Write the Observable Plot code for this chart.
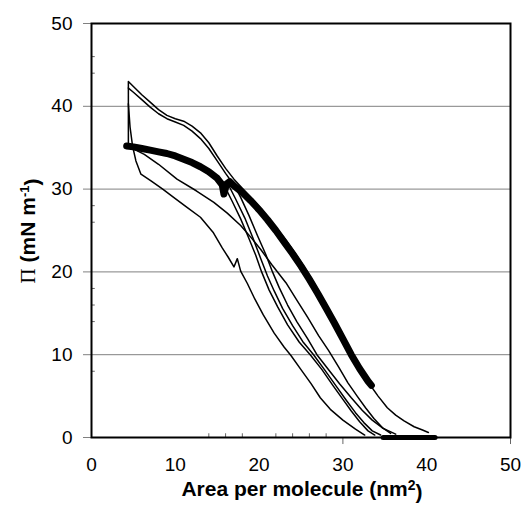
<!DOCTYPE html>
<html><head><meta charset="utf-8">
<script src="https://cdn.jsdelivr.net/npm/d3@7"></script>
<script src="https://cdn.jsdelivr.net/npm/@observablehq/plot@0.6"></script>
<style>
body{margin:0;background:#fff;}
svg{font-family:"Liberation Sans",Arial,sans-serif;}
</style>
</head><body><div id="chart"></div>
<script>
const xTicks = [0, 10, 20, 30, 40, 50];
const yTicks = [0, 10, 20, 30, 40, 50];
const gridY = [10, 20, 30, 40];
const minorX = [14, 16, 18, 22, 24, 26, 28];
const minorY = [8, 14, 16, 18, 26, 28, 44, 46];
const longX = [30, 50];

// thick marker isotherm (first compression)
const thickMain = [[4.2,35.2],[5,35.1],[6,34.9],[7,34.7],[8,34.5],[9,34.3],[10,34.0],[11,33.6],[12,33.2],[13,32.7],[14,32.1],[15,31.3],[15.6,30.5],[15.8,29.4],[16.1,30.6],[16.5,30.9],[17,30.4],[18,29.6],[19,28.6],[20,27.5],[21,26.3],[22,25.0],[23,23.6],[24,22.2],[25,20.7],[26,19.1],[27,17.4],[28,15.6],[29,13.8],[30,11.9],[31,10.0],[32,8.3],[33,6.8],[33.4,6.3]];
const thickBase = [[34.8,0],[36,0],[37.5,0],[39,0],[40.5,0],[41,0]];

// thin cycle curves
const curveA = [[4.4,35.6],[4.4,43.0],[5,42.4],[6,41.4],[7,40.5],[8,39.6],[9,38.9],[10,38.5],[11,38.2],[12,37.6],[13,36.8],[14,35.6],[15,34.0],[16,32.5],[17,31.2],[18,30.1],[19,29.0],[20,27.9],[21,26.7],[22,25.4],[23,24.1],[24,22.7],[25,21.2],[26,19.6],[27,17.9],[28,16.1],[29,14.3],[30,12.4],[31,10.4],[32,8.5],[33,6.7],[34.2,5.0],[35.3,3.6],[36.3,2.7],[37.3,2.0],[38.5,1.3],[39.5,0.9],[40.2,0.6]];
const curveB = [[4.4,42.2],[5,41.7],[6,40.8],[7,39.9],[8,39.1],[9,38.5],[10,38.1],[11,37.7],[12,37.0],[13,36.1],[14,34.9],[15,33.4],[16,31.9],[17,30.5],[18,29.2],[19,28.3],[20,27.2],[21,26.0],[22,24.7],[23,23.3],[24,21.9],[25,20.4],[26,18.8],[27,17.1],[28,15.3],[29,13.5],[30,11.6],[31,9.7],[32,8.0],[33,6.5]];
const curveC = [[4.4,40.3],[4.6,37.5],[4.9,35.2],[5.3,33.4],[5.9,31.8],[7.1,31.0],[8.5,30.0],[9.8,29.0],[11.4,27.8],[13.0,26.6],[14.5,24.8],[15.6,22.9],[16.3,21.8],[17.0,20.6],[17.4,21.6],[17.8,20.1],[18.6,18.6],[19.5,16.7],[20.5,14.8],[21.8,12.6],[23,10.9],[23.8,9.9],[25,8.2],[26.2,6.5],[27.3,4.8],[28.5,3.4],[30,2.1],[31.5,1.0],[32.6,0.3]];
const curveD = [[4.7,35.0],[6.3,34.2],[8,33.0],[10.2,31.2],[12.5,29.8],[14.6,28.4],[16.2,27.1],[17.8,25.6],[19,24.2],[20.2,22.7],[21.5,20.9],[23.2,18.7],[24.5,16.6],[25.8,14.5],[27.1,12.3],[28.3,10.5],[29.5,8.5],[30.6,6.6],[31.7,5.0],[32.7,3.6],[33.7,2.3],[34.7,1.2],[35.7,0.5]];
const curveE = [[15.8,30.5],[16.8,28.5],[17.8,26.4],[18.8,24.0],[19.6,22.0],[20.3,20.0],[21.2,17.8],[22.2,15.8],[23.4,13.6],[24.8,11.5],[26.1,10.0],[27.5,8.2],[28.8,6.3],[30,4.6],[31,3.2],[32,1.9],[33,0.8],[33.8,0.3]];
const curveF = [[16.2,30.8],[17.2,28.8],[18.3,26.5],[19.3,24.0],[20.2,21.6],[21.0,19.5],[21.8,17.7],[22.8,15.6],[24,13.5],[25.2,11.6],[26.5,10.0],[27.8,8.2],[29.2,6.2],[30.4,4.5],[31.5,3.0],[32.5,1.8],[33.5,0.8],[34.5,0.3]];
const curveG = [[16.8,31.0],[17.8,29.0],[18.8,26.8],[19.8,24.4],[20.8,22.1],[21.6,20.0],[22.4,18.1],[23.4,16.0],[24.5,14.0],[25.8,11.9],[26.9,10.0],[28.2,8.3],[29.6,6.5],[31,4.8],[32.3,3.3],[33.5,2.1],[34.8,1.1],[36.3,0.4]];

const thinCurves = [curveA, curveB, curveC, curveD, curveE, curveF, curveG];
const px = d => d[0], py = d => d[1];

const chart = Plot.plot({
  width: 523, height: 507,
  marginLeft: 91, marginRight: 13, marginTop: 23, marginBottom: 70,
  style: {fontFamily: "'Liberation Sans', Arial, sans-serif", fontSize: "19px", background: "white", color: "black"},
  x: {domain: [0, 50]},
  y: {domain: [0, 50]},
  marks: [
    Plot.ruleY(gridY, {stroke: "#808080", strokeWidth: 1}),
    Plot.axisY({ticks: yTicks, tickSize: 8, tickPadding: 11, stroke: "#808080", label: null, fontSize: 19}),
    Plot.axisX({ticks: xTicks, tickSize: 0, tickPadding: 20, label: null, fontSize: 19}),
    Plot.ruleX(minorX, {y1: 0, y2: 0.45, stroke: "#666"}),
    Plot.ruleY(minorY, {x1: 0, x2: 0.45, stroke: "#666"}),
    Plot.ruleX(longX, {y1: 0, y2: -0.85, stroke: "#666"}),
    ...thinCurves.map(c => Plot.line(c, {x: px, y: py, stroke: "black", strokeWidth: 1.5, curve: "linear"})),
    Plot.line(thickMain, {x: px, y: py, stroke: "black", strokeWidth: 7, strokeLinecap: "round", strokeLinejoin: "round"}),
    Plot.line(thickBase, {x: px, y: py, stroke: "black", strokeWidth: 5, strokeLinecap: "round"}),
    Plot.frame({stroke: "black", strokeWidth: 2})
  ]
});
document.getElementById("chart").appendChild(chart);

const svg = d3.select(chart);
const xl = svg.append("text")
  .attr("x", 302).attr("y", 496)
  .attr("text-anchor", "middle")
  .style("font-family", "'Liberation Sans', Arial, sans-serif")
  .style("font-weight", "bold").style("font-size", "21px").attr("fill", "black");
xl.append("tspan").text("Area per molecule (nm");
xl.append("tspan").text("2").attr("dy", "-0.45em").style("font-size", "14px");
xl.append("tspan").text(")").attr("dy", "0.45em");

const yl = svg.append("text")
  .attr("transform", "translate(35,231) rotate(-90)")
  .attr("text-anchor", "middle")
  .style("font-family", "'Liberation Sans', Arial, sans-serif")
  .style("font-weight", "bold").style("font-size", "21px").attr("fill", "black");
yl.append("tspan").text("Π").style("font-family", "'Liberation Serif', 'Times New Roman', serif").style("font-weight", "normal");
yl.append("tspan").text(" (mN m");
yl.append("tspan").text("-1").attr("dy", "-0.45em").style("font-size", "13px");
yl.append("tspan").text(")").attr("dy", "0.45em");
</script>
</body></html>
